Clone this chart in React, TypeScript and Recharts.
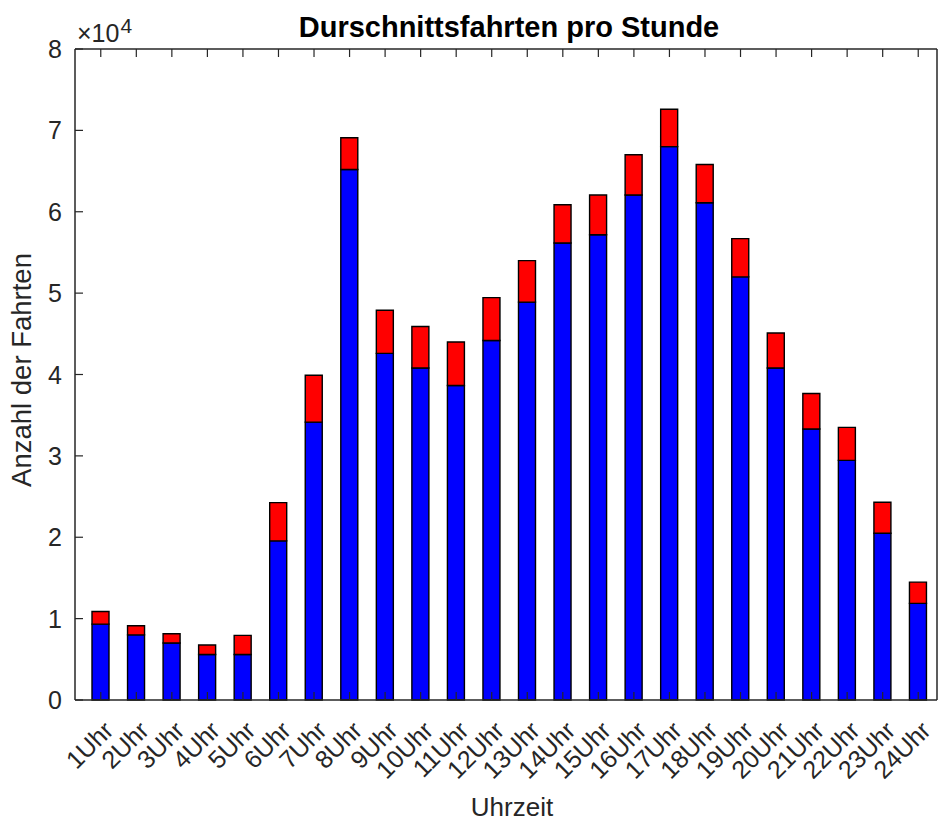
import { Bar, BarChart, XAxis, YAxis } from "recharts";

const FONT = '"Liberation Sans", Arial, Helvetica, sans-serif';
const INK = "#262626";
const BLUE = "#0000ff";
const RED = "#ff0000";
const TICK_LEN = 8;

const HOURS = [
  "1Uhr", "2Uhr", "3Uhr", "4Uhr", "5Uhr", "6Uhr", "7Uhr", "8Uhr",
  "9Uhr", "10Uhr", "11Uhr", "12Uhr", "13Uhr", "14Uhr", "15Uhr", "16Uhr",
  "17Uhr", "18Uhr", "19Uhr", "20Uhr", "21Uhr", "22Uhr", "23Uhr", "24Uhr",
];

// lower (blue) part of each stack
const BASE = [
  9320, 8000, 7000, 5600, 5600, 19550, 34150, 65200,
  42600, 40800, 38650, 44170, 48900, 56160, 57180, 62050,
  68000, 61100, 52000, 40800, 33300, 29450, 20500, 11870,
];

// upper (red) part of each stack
const EXTRA = [
  1560, 1120, 1140, 1150, 2340, 4710, 5750, 3900,
  5300, 5100, 5350, 5280, 5100, 4700, 4870, 4950,
  4600, 4700, 4700, 4300, 4370, 4050, 3800, 2610,
];

const Y_TICKS = [0, 10000, 20000, 30000, 40000, 50000, 60000, 70000, 80000];

const data = HOURS.map((hour, i) => ({ hour, blue: BASE[i], red: EXTRA[i] }));

// ticks point inwards like matlab, so the marks are drawn by the tick renderers
function BottomTick({ x, y, payload }: any) {
  const px = x + 14;
  const py = y + 32;
  return (
    <g>
      <line x1={x} y1={y} x2={x} y2={y - TICK_LEN} stroke={INK} strokeWidth={1.2} />
      <text
        x={px}
        y={py}
        transform={`rotate(-45, ${px}, ${py})`}
        textAnchor="end"
        fontSize={25}
        fontFamily={FONT}
        fill={INK}
      >
        {payload.value}
      </text>
    </g>
  );
}

function TopTick({ x, y }: any) {
  return <line x1={x} y1={y} x2={x} y2={y + TICK_LEN} stroke={INK} strokeWidth={1.2} />;
}

function LeftTick({ x, y, payload }: any) {
  return (
    <g>
      <line x1={x + 13} y1={y} x2={x + 13 + TICK_LEN} y2={y} stroke={INK} strokeWidth={1.2} />
      <text
        x={x}
        y={y}
        dy="0.36em"
        textAnchor="end"
        fontSize={25}
        fontFamily={FONT}
        fill={INK}
      >
        {payload.value / 10000}
      </text>
    </g>
  );
}

function RightTick({ x, y }: any) {
  return <line x1={x - TICK_LEN} y1={y} x2={x} y2={y} stroke={INK} strokeWidth={1.2} />;
}

export default function App() {
  return (
    <div
      style={{
        position: "absolute",
        left: 0,
        top: 0,
        width: 940,
        height: 823,
        background: "#fff",
      }}
    >
      <BarChart
        width={940}
        height={823}
        data={data}
        margin={{ top: 48, right: 2, bottom: 33, left: 15 }}
        barCategoryGap={0}
      >
        <Bar
          xAxisId="bottom"
          yAxisId="left"
          dataKey="blue"
          stackId="s"
          fill={BLUE}
          stroke="#000"
          strokeWidth={1.4}
          barSize={17}
          isAnimationActive={false}
        />
        <Bar
          xAxisId="bottom"
          yAxisId="left"
          dataKey="red"
          stackId="s"
          fill={RED}
          stroke="#000"
          strokeWidth={1.4}
          barSize={17}
          isAnimationActive={false}
        />
        <XAxis
          xAxisId="bottom"
          dataKey="hour"
          height={90}
          interval={0}
          padding={{ left: 8, right: 1 }}
          tickSize={0}
          tickMargin={0}
          tickLine={false}
          tick={<BottomTick />}
          axisLine={{ stroke: INK, strokeWidth: 1.5 }}
        />
        <XAxis
          xAxisId="top"
          orientation="top"
          dataKey="hour"
          height={1}
          interval={0}
          padding={{ left: 8, right: 1 }}
          tickSize={0}
          tickMargin={0}
          tickLine={false}
          tick={<TopTick />}
          axisLine={{ stroke: INK, strokeWidth: 1.5 }}
        />
        <YAxis
          yAxisId="left"
          width={60}
          domain={[0, 80000]}
          ticks={Y_TICKS}
          interval={0}
          tickSize={0}
          tickMargin={13}
          tickLine={false}
          tick={<LeftTick />}
          axisLine={{ stroke: INK, strokeWidth: 1.5 }}
        />
        <YAxis
          yAxisId="right"
          orientation="right"
          width={1}
          domain={[0, 80000]}
          ticks={Y_TICKS}
          interval={0}
          tickSize={0}
          tickMargin={0}
          tickLine={false}
          tick={<RightTick />}
          axisLine={{ stroke: INK, strokeWidth: 1.5 }}
        />
      </BarChart>
      <svg
        width={940}
        height={823}
        style={{ position: "absolute", left: 0, top: 0, pointerEvents: "none" }}
      >
        <text
          x={509}
          y={37}
          textAnchor="middle"
          fontSize={29}
          fontWeight="bold"
          fontFamily={FONT}
          fill="#000"
        >
          Durschnittsfahrten pro Stunde
        </text>
        <text x={77} y={42} fontSize={25} fontFamily={FONT} fill={INK}>
          ×10
          <tspan dx={1} dy={-9} fontSize={21}>
            4
          </tspan>
        </text>
        <text
          x={31}
          y={370}
          transform="rotate(-90, 31, 370)"
          textAnchor="middle"
          fontSize={27.5}
          fontFamily={FONT}
          fill={INK}
        >
          Anzahl der Fahrten
        </text>
        <text
          x={512}
          y={816}
          textAnchor="middle"
          fontSize={26}
          fontFamily={FONT}
          fill={INK}
        >
          Uhrzeit
        </text>
      </svg>
    </div>
  );
}
